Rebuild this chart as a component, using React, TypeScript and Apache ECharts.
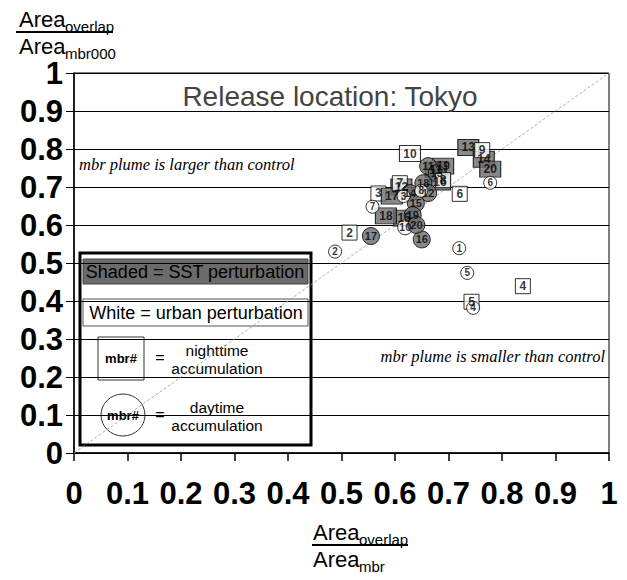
import React, { useEffect, useRef } from "react";
import * as echarts from "echarts";

// [member label, x (Area_overlap/Area_mbr), y (Area_overlap/Area_mbr000)]
const shadedSquares: [string, number, number][] = [
  ["13", 0.737, 0.804],
  ["14", 0.766, 0.773],
  ["20", 0.778, 0.747],
  ["19", 0.69, 0.755],
  ["16", 0.684, 0.713],
  ["11", 0.676, 0.745],
  ["12", 0.612, 0.7],
  ["15", 0.617, 0.618],
  ["17", 0.594, 0.676],
  ["18", 0.583, 0.624],
];
const whiteSquares: [string, number, number][] = [
  ["3", 0.569, 0.683],
  ["10", 0.628, 0.788],
  ["9", 0.763, 0.797],
  ["7", 0.609, 0.71],
  ["6", 0.721, 0.682],
  ["2", 0.515, 0.58],
  ["5", 0.743, 0.398],
  ["4", 0.839, 0.439],
  ["8", 0.69, 0.718],
];
const shadedCircles: [string, number, number][] = [
  ["11", 0.662, 0.755],
  ["13", 0.678, 0.736],
  ["18", 0.653, 0.71],
  ["12", 0.662, 0.684],
  ["14", 0.628, 0.684],
  ["15", 0.639, 0.657],
  ["19", 0.633, 0.626],
  ["17", 0.555, 0.571],
  ["16", 0.65, 0.562],
  ["20", 0.64, 0.6],
];
const whiteCircles: [string, number, number][] = [
  ["6", 0.778, 0.711],
  ["8", 0.649, 0.69],
  ["3", 0.616, 0.676],
  ["7", 0.558, 0.648],
  ["10", 0.619, 0.594],
  ["2", 0.488, 0.53],
  ["1", 0.72, 0.539],
  ["5", 0.735, 0.474],
  ["4", 0.746, 0.382],
];
const oneToOne: [number, number][] = [
  [0, 0],
  [1, 1],
];
const tickValues = [0, 0.1, 0.2, 0.3, 0.4, 0.5, 0.6, 0.7, 0.8, 0.9, 1];

const SANS = "'Liberation Sans', Arial, sans-serif";
const SERIF = "'Liberation Serif', 'Times New Roman', serif";
const SHADE = "#6b6b6b";

function item(p: [string, number, number], shape: "rect" | "circle", shaded: boolean) {
  const two = p[0].length > 1;
  const size =
    shape === "rect" ? (two ? [21, 16] : [15, 15]) : two ? (shaded ? 17 : 15) : 13;
  return {
    value: [p[1], p[2]],
    name: p[0],
    symbol: shape,
    symbolSize: size,
    itemStyle: {
      color: shaded ? SHADE : "#ffffff",
      borderColor: "#000",
      borderWidth: 1,
    },
    label: {
      show: true,
      position: "inside",
      formatter: p[0],
      color: "#000",
      fontFamily: SANS,
      fontWeight: "bold",
      fontSize: shape === "rect" ? 12 : two ? 11 : 10,
    },
  };
}

export default function App() {
  const ref = useRef<HTMLDivElement>(null);
  useEffect(() => {
    if (!ref.current) return;
    const chart = echarts.init(ref.current, null, { renderer: "svg" });

    const lowSquares = whiteSquares.filter((p) => p[0] === "3");
    const topSquares = whiteSquares.filter((p) => p[0] === "8");
    const midSquares = whiteSquares.filter((p) => p[0] !== "3" && p[0] !== "8");
    const topCircles = shadedCircles.filter((p) => p[0] === "20");
    const lowCircles = shadedCircles.filter((p) => p[0] !== "20");
    const points = [
      ...lowSquares.map((p) => item(p, "rect", false)),
      ...shadedSquares.map((p) => item(p, "rect", true)),
      ...midSquares.map((p) => item(p, "rect", false)),
      ...lowCircles.map((p) => item(p, "circle", true)),
      ...topSquares.map((p) => item(p, "rect", false)),
      ...whiteCircles.map((p) => item(p, "circle", false)),
      ...topCircles.map((p) => item(p, "circle", true)),
    ];

    const tickFmt = (v: number) => {
      const r = Math.round(v * 10) / 10;
      return tickValues.includes(r) ? String(r) : "";
    };

    chart.setOption({
      animation: false,
      backgroundColor: "#ffffff",
      grid: {
        left: 74,
        right: 18,
        top: 73,
        bottom: 127,
        show: true,
        borderColor: "#000",
        borderWidth: 1,
        backgroundColor: "transparent",
      },
      xAxis: {
        type: "value",
        min: 0,
        max: 1,
        interval: 0.1,
        axisLine: { show: true, onZero: false, lineStyle: { color: "#000", width: 1.5 } },
        axisTick: { show: true, inside: false, length: 8, lineStyle: { color: "#000", width: 1.5 } },
        splitLine: { show: false },
        axisLabel: {
          color: "#000",
          fontFamily: SANS,
          fontWeight: "bold",
          fontSize: 31,
          margin: 25,
          formatter: tickFmt,
        },
      },
      yAxis: {
        type: "value",
        min: 0,
        max: 1,
        interval: 0.1,
        axisLine: { show: true, onZero: false, lineStyle: { color: "#000", width: 1.5 } },
        axisTick: { show: true, inside: false, length: 8, lineStyle: { color: "#000", width: 1 } },
        splitLine: { show: true, lineStyle: { color: "#000", width: 1 } },
        axisLabel: {
          color: "#000",
          fontFamily: SANS,
          fontWeight: "bold",
          fontSize: 31,
          margin: 11,
          formatter: tickFmt,
        },
      },
      series: [
        {
          type: "line",
          data: oneToOne,
          symbol: "none",
          silent: true,
          z: 1,
          lineStyle: { color: "#999", width: 0.8, type: [3, 2] },
        },
        {
          type: "scatter",
          data: points,
          z: 3,
        },
      ],
      graphic: [
        // y-axis title (fraction)
        { type: "text", left: 19, top: 8, style: { text: "Area", font: `22px ${SANS}`, fill: "#000" } },
        { type: "text", left: 65, top: 19, style: { text: "overlap", font: `15px ${SANS}`, fill: "#000" } },
        { type: "rect", shape: { x: 16, y: 31, width: 97, height: 2 }, style: { fill: "#000" } },
        { type: "text", left: 19, top: 35, style: { text: "Area", font: `22px ${SANS}`, fill: "#000" } },
        { type: "text", left: 65, top: 46, style: { text: "mbr000", font: `15px ${SANS}`, fill: "#000" } },
        // x-axis title (fraction)
        { type: "text", left: 313, top: 521, style: { text: "Area", font: `22px ${SANS}`, fill: "#000" } },
        { type: "text", left: 359, top: 532, style: { text: "overlap", font: `15px ${SANS}`, fill: "#000" } },
        { type: "rect", shape: { x: 312, y: 544, width: 96, height: 2 }, style: { fill: "#000" } },
        { type: "text", left: 313, top: 548, style: { text: "Area", font: `22px ${SANS}`, fill: "#000" } },
        { type: "text", left: 359, top: 559, style: { text: "mbr", font: `15px ${SANS}`, fill: "#000" } },
        // plot title
        {
          type: "text",
          x: 330,
          y: 96,
          style: {
            text: "Release location: Tokyo",
            font: `28px ${SANS}`,
            fill: "#444",
            align: "center",
            verticalAlign: "middle",
          },
          z: 10,
        },
        // annotations
        {
          type: "text",
          x: 79,
          y: 164,
          style: {
            text: "mbr plume is larger than control",
            font: `italic 16.5px ${SERIF}`,
            fill: "#000",
            verticalAlign: "middle",
          },
          z: 10,
        },
        {
          type: "text",
          x: 605,
          y: 356,
          style: {
            text: "mbr plume is smaller than control",
            font: `italic 16.5px ${SERIF}`,
            fill: "#000",
            align: "right",
            verticalAlign: "middle",
          },
          z: 10,
        },
        // legend box
        {
          type: "group",
          z: 20,
          children: [
            {
              type: "rect",
              shape: { x: 80, y: 253, width: 231, height: 192 },
              style: { fill: "#fff", stroke: "#000", lineWidth: 3 },
            },
            {
              type: "rect",
              shape: { x: 83, y: 259, width: 225, height: 25 },
              style: { fill: SHADE, stroke: "#444", lineWidth: 1 },
            },
            {
              type: "text",
              x: 195,
              y: 272,
              style: {
                text: "Shaded = SST perturbation",
                font: `18px ${SANS}`,
                fill: "#000",
                align: "center",
                verticalAlign: "middle",
              },
            },
            {
              type: "rect",
              shape: { x: 83, y: 299, width: 225, height: 27 },
              style: { fill: "#fff", stroke: "#555", lineWidth: 1 },
            },
            {
              type: "text",
              x: 196,
              y: 313,
              style: {
                text: "White = urban perturbation",
                font: `18px ${SANS}`,
                fill: "#000",
                align: "center",
                verticalAlign: "middle",
              },
            },
            {
              type: "rect",
              shape: { x: 98, y: 337, width: 46, height: 43 },
              style: { fill: "#fff", stroke: "#333", lineWidth: 1 },
            },
            {
              type: "text",
              x: 121,
              y: 358,
              style: {
                text: "mbr#",
                font: `bold 13px ${SANS}`,
                fill: "#000",
                align: "center",
                verticalAlign: "middle",
              },
            },
            {
              type: "text",
              x: 160,
              y: 357,
              style: { text: "=", font: `16px ${SANS}`, fill: "#000", align: "center", verticalAlign: "middle" },
            },
            {
              type: "text",
              x: 217,
              y: 359,
              style: {
                text: "nighttime\naccumulation",
                font: `15.5px ${SANS}`,
                lineHeight: 18,
                fill: "#000",
                align: "center",
                verticalAlign: "middle",
              },
            },
            {
              type: "ellipse",
              shape: { cx: 123, cy: 415, rx: 22, ry: 21 },
              style: { fill: "#fff", stroke: "#333", lineWidth: 1 },
            },
            {
              type: "text",
              x: 123,
              y: 415,
              style: {
                text: "mbr#",
                font: `bold 13px ${SANS}`,
                fill: "#000",
                align: "center",
                verticalAlign: "middle",
              },
            },
            {
              type: "text",
              x: 160,
              y: 414,
              style: { text: "=", font: `16px ${SANS}`, fill: "#000", align: "center", verticalAlign: "middle" },
            },
            {
              type: "text",
              x: 217,
              y: 416,
              style: {
                text: "daytime\naccumulation",
                font: `15.5px ${SANS}`,
                lineHeight: 18,
                fill: "#000",
                align: "center",
                verticalAlign: "middle",
              },
            },
          ],
        },
      ],
    });
    return () => chart.dispose();
  }, []);
  return (
    <div
      ref={ref}
      style={{ position: "absolute", left: 0, top: 0, width: 627, height: 580 }}
    />
  );
}
